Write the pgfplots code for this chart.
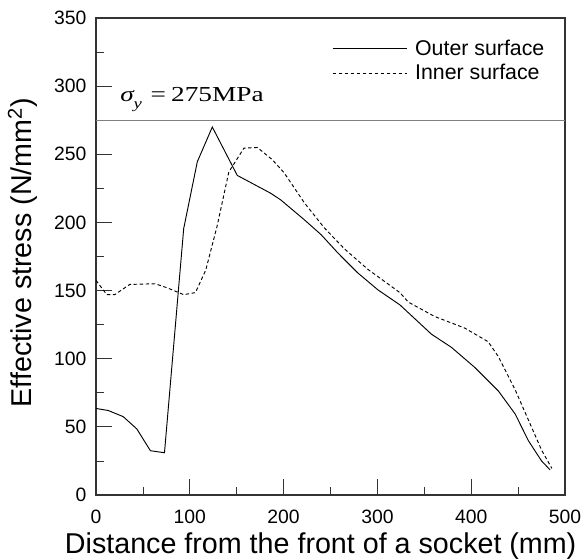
\documentclass[border=0pt]{standalone}
\usepackage{fontspec}
\setmainfont{Liberation Sans}
\newfontfamily\timesfont{Liberation Serif}
\usepackage{graphicx}
\usepackage{pgfplots}
\pgfplotsset{compat=1.18}
\begin{document}
\begin{tikzpicture}
\begin{axis}[
  name=ax,
  scale only axis,
  width=351.75pt, height=357.75pt,
  xmin=0, xmax=500, ymin=0, ymax=350,
  axis line style={black!80, line width=0.8pt},
  xtick={0,100,...,500}, minor xtick={50,150,...,450},
  ytick={0,50,...,350}, minor ytick={25,75,...,325},
  tick align=inside, xtick pos=bottom, ytick pos=left,
  major tick length=12pt, minor tick length=6pt,
  tick style={black!80, line width=0.6pt},
  /pgf/number format/assume math mode=true,
  ticklabel style={font=\fontsize{14.5}{14.5}\selectfont},
  xticklabel style={anchor=base, inner sep=0pt, yshift=-21pt},
  yticklabel style={anchor=east, inner sep=0pt, xshift=-7pt},
  xlabel={Distance from the front of a socket (mm)},
  ylabel={Effective stress (N/mm\textsuperscript{2})},
  xlabel style={at={(axis description cs:0.479,-0.1216)}, anchor=base, font=\fontsize{21.5}{21.5}\selectfont, inner sep=0pt},
  ylabel style={at={(axis description cs:-0.1365,0.508)}, anchor=base, font=\fontsize{21.5}{21.5}\selectfont, inner sep=0pt},
  legend style={at={(axis description cs:0.503,0.962)}, anchor=north west, draw=none, fill=none,
    inner sep=0pt, row sep=0.5pt, font=\fontsize{16}{16}\selectfont,
    nodes={inner sep=2.5pt}},
  legend cell align=left,
  legend image code/.code={\draw[#1] (0pt,0pt) -- (56pt,0pt); \path (59pt,0pt);},
]
\addplot[black, line width=0.7pt] coordinates {
(0,63.5) (13,62) (29,57.5) (43.5,48.5) (58,32.5) (73,31) (93.5,195.5) (108,244.5) (124,270) (150.6,234.5) (186,221.5) (197,216.5) (222,202) (240,191) (258,177.5) (279,163) (300.6,150.5) (324,139.5) (357.6,118) (379,108.3) (404,93.5) (429,76.3) (447,59.3) (461,39.8) (475,25) (484,18.5)
};
\addlegendentry{Outer surface}
\addplot[black, line width=0.7pt, dash pattern=on 2.6pt off 1.9pt] coordinates {
(0,157.5) (11.5,147) (20,147) (36,154.5) (63,155) (76,152) (93.5,147) (106,148.5) (117,165) (129,197) (141.6,237) (157.7,254.5) (172,255) (188,246) (200.5,236.5) (222,214.5) (243.4,196) (265,180.5) (290,165.5) (324,148.5) (333,141.5) (361,131) (393,122.5) (418,112.5) (429,101.5) (447,77) (461,55) (475,33) (486,19.5)
};
\addlegendentry{Inner surface}
\addplot[gray, line width=1pt, forget plot] coordinates {(0,275) (500,275)};
\node[anchor=base west, inner sep=0pt, font=\timesfont\fontsize{16}{16}\selectfont] at (axis cs:25.6,289)
  {\scalebox{1.28}[1]{{\itshape σ}\raisebox{-0.35em}{\fontsize{11}{11}\selectfont\itshape y}\hspace{5pt}=\hspace{3pt}275MPa}};
\end{axis}
\pgfresetboundingbox
\path (ax.south west) ++(-72pt,-48pt) coordinate (bl);
\path (ax.north east) ++(13.5pt,13.5pt) coordinate (tr);
\path[use as bounding box] (bl) rectangle (tr);
\end{tikzpicture}
\end{document}
